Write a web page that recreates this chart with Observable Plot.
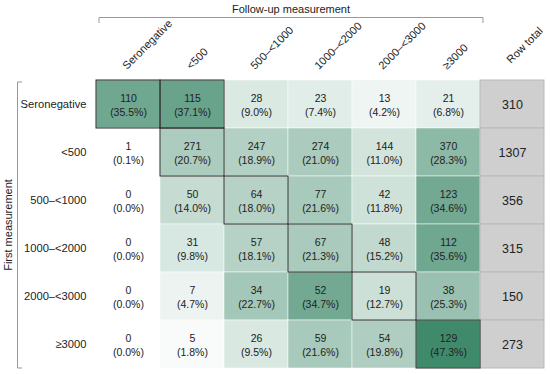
<!DOCTYPE html>
<html>
<head>
<meta charset="utf-8">
<script src="https://cdn.jsdelivr.net/npm/d3@7"></script>
<script src="https://cdn.jsdelivr.net/npm/@observablehq/plot@0.6"></script>
<style>
  html, body { margin: 0; padding: 0; background: #fff; }
  #chart { width: 550px; height: 374px; }
  svg { font-family: "Liberation Sans", Arial, Helvetica, sans-serif; }
</style>
</head>
<body>
<div id="chart"></div>
<script>
const rowLabels = ["Seronegative", "<500", "500–<1000", "1000–<2000", "2000–<3000", "≥3000"];
const colLabels = ["Seronegative", "<500", "500–<1000", "1000–<2000", "2000–<3000", "≥3000"];
const totalLabel = "Row total";

const counts = [
  [110, 115, 28, 23, 13, 21],
  [1, 271, 247, 274, 144, 370],
  [0, 50, 64, 77, 42, 123],
  [0, 31, 57, 67, 48, 112],
  [0, 7, 34, 52, 19, 38],
  [0, 5, 26, 59, 54, 129]
];
const percents = [
  [35.5, 37.1, 9.0, 7.4, 4.2, 6.8],
  [0.1, 20.7, 18.9, 21.0, 11.0, 28.3],
  [0.0, 14.0, 18.0, 21.6, 11.8, 34.6],
  [0.0, 9.8, 18.1, 21.3, 15.2, 35.6],
  [0.0, 4.7, 22.7, 34.7, 12.7, 25.3],
  [0.0, 1.8, 9.5, 21.6, 19.8, 47.3]
];
const rowTotals = [310, 1307, 356, 315, 150, 273];
// highlighted (outlined) cells: [row index, col index]
const outlined = [[0, 0], [0, 1], [1, 1], [2, 2], [3, 3], [4, 4], [5, 5]];

const cells = [];
rowLabels.forEach((r, i) => colLabels.forEach((c, j) => {
  cells.push({row: r, col: c, n: counts[i][j], pct: percents[i][j]});
}));
const totals = rowLabels.map((r, i) => ({row: r, col: totalLabel, n: rowTotals[i]}));
const outlineCells = outlined.map(([i, j]) => ({row: rowLabels[i], col: colLabels[j]}));
const xDomain = [...colLabels, totalLabel];

const font = "Liberation Sans, Arial, Helvetica, sans-serif";

const plot = Plot.plot({
  width: 550,
  height: 374,
  marginTop: 78,
  marginLeft: 94,
  marginRight: 5,
  marginBottom: 5,
  style: {fontFamily: font, background: "white"},
  x: {domain: xDomain, padding: 0, axis: null},
  y: {domain: rowLabels, padding: 0, axis: null},
  color: {type: "linear", domain: [0, 47.3], range: ["#ffffff", "#408a6c"]},
  marks: [
    Plot.cell(cells, {x: "col", y: "row", fill: "pct", stroke: "white", strokeOpacity: 0.5, strokeWidth: 1}),
    Plot.cell(totals, {x: "col", y: "row", fill: "#cfcfcf", stroke: "#b9b9b9", strokeWidth: 1}),
    Plot.cell(outlineCells, {x: "col", y: "row", fill: "none", stroke: "#2b2b2b", strokeWidth: 1}),
    Plot.text(cells, {x: "col", y: "row", text: d => `${d.n}\n(${d.pct.toFixed(1)}%)`, fontSize: 10.5, lineHeight: 1.35, fill: "#222"}),
    Plot.text(totals, {x: "col", y: "row", text: d => String(d.n), fontSize: 12.5, fill: "#222"}),
    Plot.text(colLabels, {x: d => d, frameAnchor: "top", dx: -7, dy: -14, rotate: -45, textAnchor: "start", fontSize: 11, fill: "#222"}),
    Plot.text([totalLabel], {x: d => d, frameAnchor: "top", dx: -7, dy: -20, rotate: -45, textAnchor: "start", fontSize: 11, fill: "#222"}),
    Plot.text(rowLabels, {y: d => d, frameAnchor: "left", dx: -8, textAnchor: "end", fontSize: 11.2, fill: "#222"})
  ]
});

document.getElementById("chart").appendChild(plot);

// Brackets and group titles derived from scales
const svg = d3.select(plot);
const xs = plot.scale("x"), ys = plot.scale("y");
const xLeft = xs.apply(colLabels[0]) + 3;
const xRight = xs.apply(colLabels[colLabels.length - 1]) + xs.bandwidth + 3;
const yTop = ys.apply(rowLabels[0]) + 2;
const yBot = ys.apply(rowLabels[rowLabels.length - 1]) + ys.bandwidth;
const bc = "#999";
const g = svg.append("g").attr("fill", "none").attr("stroke", bc).attr("stroke-width", 1);
g.append("path").attr("d", `M${xLeft},23V17.5H${xRight}V23`);
g.append("path").attr("d", `M22,${yTop}H17.5V${yBot}H22`);
svg.append("text")
  .attr("x", (xLeft + xRight) / 2).attr("y", 13)
  .attr("text-anchor", "middle").attr("font-size", 11).attr("fill", "#222")
  .attr("font-family", font)
  .text("Follow-up measurement");
svg.append("text")
  .attr("transform", `translate(9,${(yTop + yBot) / 2}) rotate(-90)`)
  .attr("text-anchor", "middle").attr("dominant-baseline", "middle").attr("font-size", 11).attr("fill", "#222")
  .attr("font-family", font)
  .text("First measurement");
</script>
</body>
</html>
